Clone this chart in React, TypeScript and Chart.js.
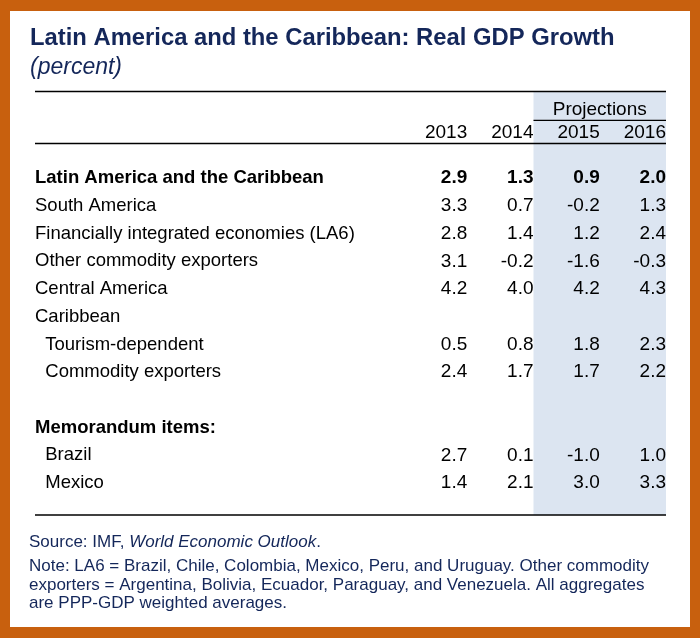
import React, { useEffect, useRef } from 'react';
import { Chart, registerables } from 'chart.js';

Chart.register(...registerables);

// ---------- data ----------
const titleText = 'Latin America and the Caribbean: Real GDP Growth';
const subtitleText = '(percent)';
const years = ['2013', '2014', '2015', '2016'];
const projectionLabel = 'Projections';
const projectionYears = ['2015', '2016'];

const rowLabels = [
  'Latin America and the Caribbean',
  'South America',
  'Financially integrated economies (LA6)',
  'Other commodity exporters',
  'Central America',
  'Caribbean',
  'Tourism-dependent',
  'Commodity exporters',
  '',
  'Memorandum items:',
  'Brazil',
  'Mexico',
];
const indentRows = [false, false, false, false, false, false, true, true, false, false, true, true];
const boldRows = [true, false, false, false, false, false, false, false, false, true, false, false];

const values2013 = [2.9, 3.3, 2.8, 3.1, 4.2, null, 0.5, 2.4, null, null, 2.7, 1.4];
const values2014 = [1.3, 0.7, 1.4, -0.2, 4.0, null, 0.8, 1.7, null, null, 0.1, 2.1];
const values2015 = [0.9, -0.2, 1.2, -1.6, 4.2, null, 1.8, 1.7, null, null, -1.0, 3.0];
const values2016 = [2.0, 1.3, 2.4, -0.3, 4.3, null, 2.3, 2.2, null, null, 1.0, 3.3];

const sourcePrefix = 'Source: IMF, ';
const sourceItalic = 'World Economic Outlook';
const sourceSuffix = '.';
const noteLines = [
  'Note: LA6 = Brazil, Chile, Colombia, Mexico, Peru, and Uruguay. Other commodity',
  'exporters = Argentina, Bolivia, Ecuador, Paraguay, and Venezuela. All aggregates',
  'are PPP-GDP weighted averages.',
];

// ---------- style / layout ----------
const FAMILY = '"Liberation Sans", Arial, Helvetica, sans-serif';
const ORANGE = '#C8600E';
const NAVY = '#14275A';
const SHADE = '#DCE5F1';
const LABEL_SIZE = 18.5;
const NUM_SIZE = 19;
const W = 700;
const H = 638;

// row value positions (in row units) for header elements
const Y_MIN = -3.083;
const Y_MAX = 12.19;
const Y_PROJ = -2.45;
const Y_PROJ_LINE = -2.08;
const Y_YEARS = -1.62;
const Y_HEAD_LINE = -1.25;
const ROW_NUDGE = 0.04;

const allValues = [values2013, values2014, values2015, values2016];

const tablePlugin = {
  id: 'tablePlugin',
  beforeDraw(chart: any) {
    const { ctx } = chart;
    const xs = chart.scales.x;
    const ca = chart.chartArea;
    ctx.save();
    ctx.fillStyle = ORANGE;
    ctx.fillRect(0, 0, W, H);
    ctx.fillStyle = '#ffffff';
    ctx.fillRect(10, 11, 680, 616);
    const x0 = xs.getPixelForValue(years.indexOf(projectionYears[0]));
    const x1 = xs.getPixelForValue(years.length);
    ctx.fillStyle = SHADE;
    ctx.fillRect(x0, ca.top, x1 - x0, ca.bottom - ca.top);
    ctx.restore();
  },
  afterDatasetsDraw(chart: any) {
    const { ctx } = chart;
    const xs = chart.scales.x;
    const ys = chart.scales.y;
    const ca = chart.chartArea;
    ctx.save();
    // cells
    ctx.textAlign = 'right';
    ctx.textBaseline = 'middle';
    ctx.fillStyle = '#000';
    chart.data.datasets.forEach((ds: any, di: number) => {
      const meta = chart.getDatasetMeta(di);
      meta.data.forEach((el: any, j: number) => {
        const raw = ds.data[j];
        ctx.font = `${boldRows[raw.y] ? 'bold ' : ''}${NUM_SIZE}px ${FAMILY}`;
        ctx.fillText(raw.v.toFixed(1), el.x, el.y);
      });
    });
    // header years
    ctx.font = `${NUM_SIZE}px ${FAMILY}`;
    years.forEach((yr, i) => {
      ctx.fillText(yr, xs.getPixelForValue(i + 1), ys.getPixelForValue(Y_YEARS));
    });
    const px0 = xs.getPixelForValue(years.indexOf(projectionYears[0]));
    const px1 = xs.getPixelForValue(years.length);
    ctx.textAlign = 'center';
    ctx.fillText(projectionLabel, (px0 + px1) / 2, ys.getPixelForValue(Y_PROJ));
    // lines
    ctx.strokeStyle = '#000';
    ctx.lineWidth = 1.4;
    const left = ys.left;
    const hline = (y: number, a: number, b: number) => {
      ctx.beginPath();
      ctx.moveTo(a, y);
      ctx.lineTo(b, y);
      ctx.stroke();
    };
    hline(ca.top, left, ca.right);
    hline(ys.getPixelForValue(Y_HEAD_LINE), left, ca.right);
    hline(ca.bottom, left, ca.right);
    hline(ys.getPixelForValue(Y_PROJ_LINE), px0, px1);

    // title
    ctx.textAlign = 'left';
    ctx.textBaseline = 'alphabetic';
    ctx.fillStyle = NAVY;
    ctx.font = `bold 23.8px ${FAMILY}`;
    ctx.fillText(titleText, 30, 45);
    ctx.font = `italic 23px ${FAMILY}`;
    ctx.fillText(subtitleText, 30, 74);

    // notes
    const nf = `17px ${FAMILY}`;
    const nfi = `italic 17px ${FAMILY}`;
    let nx = 29;
    ctx.font = nf;
    ctx.fillText(sourcePrefix, nx, 547);
    nx += ctx.measureText(sourcePrefix).width;
    ctx.font = nfi;
    ctx.fillText(sourceItalic, nx, 547);
    nx += ctx.measureText(sourceItalic).width;
    ctx.font = nf;
    ctx.fillText(sourceSuffix, nx, 547);
    noteLines.forEach((line, i) => {
      ctx.fillText(line, 29, 571 + i * 18.5);
    });
    ctx.restore();
  },
};

export default function App() {
  const ref = useRef<HTMLCanvasElement | null>(null);
  useEffect(() => {
    document.body.style.margin = '0';
    const canvas = ref.current;
    if (!canvas) return;
    const datasets = allValues.map((vals, c) => ({
      label: years[c],
      data: vals
        .map((v, i) => (v === null ? null : { x: c + 1, y: i, v }))
        .filter((p) => p !== null),
      pointRadius: 0,
      pointHoverRadius: 0,
      showLine: false,
    }));
    const chart = new Chart(canvas, {
      type: 'scatter',
      data: { datasets: datasets as any },
      options: {
        responsive: false,
        animation: false,
        events: [],
        layout: { padding: { left: 35, right: 34, top: 91.5, bottom: 123 } },
        plugins: {
          legend: { display: false },
          tooltip: { enabled: false },
          title: { display: false },
        },
        scales: {
          x: {
            type: 'linear',
            display: false,
            min: 0,
            max: years.length,
          },
          y: {
            type: 'linear',
            reverse: true,
            min: Y_MIN - ROW_NUDGE,
            max: Y_MAX - ROW_NUDGE,
            bounds: 'data',
            afterBuildTicks: (s: any) => {
              s.ticks = rowLabels.map((_, i) => ({ value: i }));
            },
            afterFit: (s: any) => {
              s.width = 366;
            },
            grid: { display: false, drawTicks: false },
            border: { display: false },
            ticks: {
              autoSkip: false,
              crossAlign: 'far',
              padding: 0,
              color: '#000',
              font: (c: any) => ({
                family: FAMILY,
                size: LABEL_SIZE,
                weight: boldRows[c.index] ? 'bold' : 'normal',
              }),
              callback: (_v: any, index: number) =>
                (indentRows[index] ? '  ' : '') + rowLabels[index],
            },
          },
        },
      } as any,
      plugins: [tablePlugin],
    });
    return () => chart.destroy();
  }, []);
  return (
    <div style={{ width: W, height: H }}>
      <canvas ref={ref} width={W} height={H} style={{ display: 'block' }} />
    </div>
  );
}
